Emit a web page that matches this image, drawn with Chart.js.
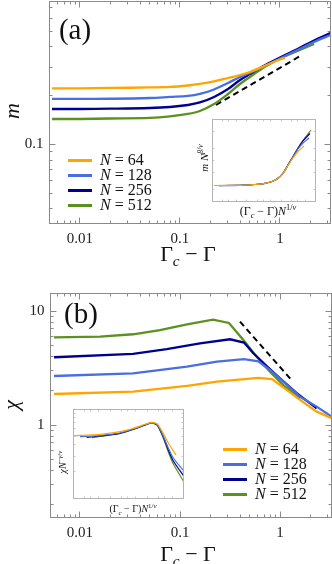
<!DOCTYPE html>
<html>
<head>
<meta charset="utf-8">
<title>Order parameter and susceptibility</title>
<script src="https://cdn.jsdelivr.net/npm/chart.js@4.4.1/dist/chart.umd.min.js"></script>
<style>
  html, body { margin: 0; padding: 0; background: #fff; }
  body { position: relative; width: 332px; height: 564px; overflow: hidden; font-family: "Liberation Serif", "DejaVu Serif", serif; color: #111; }
  canvas { position: absolute; }
  .txt { position: absolute; white-space: nowrap; line-height: 1; transform: translate(-50%, -50%); }
  .rot { transform: translate(-50%, -50%) rotate(-90deg); }
  .leg { position: absolute; display: flex; align-items: center; height: 15px; font-size: 16px; white-space: nowrap; }
  .leg .sw { display: inline-block; width: 24px; height: 3px; margin-right: 8px; }
  sub, sup { font-size: 70%; line-height: 0; }
</style>
</head>
<body>
<canvas id="chartA" width="332" height="250" style="left:0;top:0"></canvas>
<canvas id="chartB" width="332" height="294" style="left:0;top:270px"></canvas>
<canvas id="insetA" width="104" height="83" style="left:212px;top:119px"></canvas>
<canvas id="insetB" width="111" height="90" style="left:73px;top:409px"></canvas>

<div class="txt" style="left:75px;top:29px;font-size:29px">(a)</div>
<div class="txt" style="left:81px;top:313px;font-size:29px">(b)</div>
<div class="txt rot" style="left:12px;top:111px;font-size:22px"><i>m</i></div>
<div class="txt rot" style="left:11px;top:405px;font-size:22px"><i>χ</i></div>
<div class="txt" style="left:188px;top:254px;font-size:22px">Γ<sub><i>c</i></sub> − Γ</div>
<div class="txt" style="left:188px;top:554px;font-size:22px">Γ<sub><i>c</i></sub> − Γ</div>
<div class="txt rot" style="left:204px;top:158px;font-size:11px"><i>m</i> <i>N</i><sup><i>β</i>/<i>ν</i></sup></div>
<div class="txt" style="left:268px;top:211px;font-size:12px">(Γ<sub><i>c</i></sub> − Γ)<i>N</i><sup>1/<i>ν</i></sup></div>
<div class="txt rot" style="left:63px;top:462px;font-size:10px"><i>χN</i><sup>−<i>γ</i>/<i>ν</i></sup></div>
<div class="txt" style="left:133px;top:509px;font-size:10px">(Γ<sub><i>c</i></sub> − Γ)<i>N</i><sup>1/<i>ν</i></sup></div>

<script>
// system sizes and colours
const sizes = [64, 128, 256, 512];
const colors = ['#ffa500', '#4a6ee0', '#00008f', '#5b9120'];

// shared x ticks (Gamma_c - Gamma)
const xMajor = [0.01, 0.1, 1];
const xMinor = [0.006, 0.007, 0.008, 0.009, 0.02, 0.03, 0.04, 0.05, 0.06, 0.07, 0.08, 0.09,
                0.2, 0.3, 0.4, 0.5, 0.6, 0.7, 0.8, 0.9, 2, 3];

// panel (a): magnetisation m
const aYMajor = [0.1];
const aYMinor = [0.04, 0.05, 0.06, 0.07, 0.08, 0.09, 0.2, 0.3, 0.4, 0.5, 0.6, 0.7];
const aX64 = [0.00525, 0.01, 0.02, 0.05, 0.0794, 0.12, 0.158, 0.219, 0.302, 0.398, 0.5, 0.70, 1.0, 1.12];
const aM64 = [0.2223, 0.2223, 0.2233, 0.2249, 0.2265, 0.2313, 0.2363, 0.2449, 0.2573, 0.2685, 0.2802, 0.3049, 0.3347, 0.342];
const aX128 = [0.00525, 0.01, 0.02, 0.05, 0.0794, 0.12, 0.158, 0.219, 0.302, 0.398, 0.5, 0.70, 1.0, 1.5, 2.19, 3.2];
const aM128 = [0.1910, 0.1910, 0.1915, 0.1936, 0.1965, 0.1993, 0.2050, 0.2186, 0.2398, 0.261, 0.2763, 0.3049, 0.3396, 0.3831, 0.4295, 0.474];
const aX256 = [0.00525, 0.01, 0.02, 0.05, 0.0794, 0.12, 0.158, 0.219, 0.302, 0.398, 0.5, 0.70, 1.0, 1.5, 2.19, 3.2];
const aM256 = [0.1656, 0.1656, 0.1663, 0.1680, 0.1704, 0.1753, 0.1817, 0.1965, 0.2201, 0.25, 0.2724, 0.3073, 0.3443, 0.3886, 0.4385, 0.4875];
const aX512 = [0.00525, 0.01, 0.02, 0.05, 0.0794, 0.12, 0.158, 0.219, 0.302, 0.398, 0.5, 0.70, 1.0, 1.5, 2.19];
const aM512 = [0.1437, 0.1437, 0.1447, 0.1458, 0.1489, 0.1543, 0.1610, 0.1778, 0.2050, 0.2363, 0.261, 0.3007, 0.3396, 0.3778, 0.4172];
const aFitX = [0.229, 1.66];
const aFitY = [0.1753, 0.3569];

// panel (b): susceptibility chi
const bYMajor = [1, 10];
const bYMinor = [0.2, 0.3, 0.4, 0.5, 0.6, 0.7, 0.8, 0.9, 2, 3, 4, 5, 6, 7, 8, 9];
const bX64 = [0.0055, 0.0339, 0.1175, 0.2344, 0.607, 0.832, 1.166, 1.585, 2.328, 3.289];
const bChi64 = [1.87, 1.96, 2.20, 2.40, 2.59, 2.53, 2.03, 1.66, 1.31, 1.15];
const bX128 = [0.0055, 0.0339, 0.1175, 0.2344, 0.4365, 0.607, 0.794, 1.079, 1.585, 2.328, 3.289];
const bChi128 = [2.69, 2.84, 3.25, 3.59, 3.79, 3.62, 3.04, 2.40, 1.77, 1.45, 1.18];
const bX256 = [0.0055, 0.0339, 0.0736, 0.1585, 0.316, 0.4365, 0.541, 0.736, 1.0, 1.468, 2.328];
const bChi256 = [3.93, 4.2, 4.64, 5.21, 5.65, 5.29, 4.26, 3.29, 2.57, 1.90, 1.40];
const bX512 = [0.0055, 0.0159, 0.0339, 0.0631, 0.1175, 0.2138, 0.309, 0.43, 0.585, 0.794, 1.079, 1.585];
const bChi512 = [5.88, 5.95, 6.25, 6.81, 7.64, 8.39, 7.85, 5.57, 3.97, 2.94, 2.24, 1.71];
const bFitX = [0.398, 1.279];
const bFitY = [8.06, 2.52];

// inset (a): scaling collapse of m
const iaX64 = [0.0114, 0.0643, 0.174, 0.338, 0.538, 0.750, 1.117, 1.556, 2.169, 3.025, 4.51];
const iaY64 = [0.250, 0.2525, 0.264, 0.282, 0.312, 0.358, 0.492, 0.758, 1.149, 1.648, 2.236];
const iaX128 = [0.0159, 0.0643, 0.174, 0.338, 0.538, 0.750, 1.117, 1.556, 2.169, 3.025, 4.217, 6.28];
const iaY128 = [0.2456, 0.2525, 0.264, 0.282, 0.312, 0.358, 0.492, 0.779, 1.235, 1.893, 2.641, 3.485];
const iaX256 = [0.0222, 0.0643, 0.174, 0.338, 0.538, 0.750, 1.117, 1.556, 2.169, 3.025, 4.217, 6.71];
const iaY256 = [0.2497, 0.2525, 0.264, 0.282, 0.312, 0.358, 0.492, 0.779, 1.235, 1.968, 2.951, 4.473];
const iaX512 = [0.0378, 0.0643, 0.174, 0.338, 0.538, 0.750, 1.117, 1.556, 2.169, 3.025, 4.217, 7.18];
const iaY512 = [0.2497, 0.2525, 0.264, 0.282, 0.312, 0.358, 0.492, 0.779, 1.235, 2.001, 3.033, 5.432];

// inset (b): scaling collapse of chi
const ibX64 = [0.01084, 0.0537, 0.1862, 0.4266, 0.883, 1.34, 1.897, 2.758, 3.767, 6.08];
const ibY64 = [0.505, 0.5235, 0.5596, 0.6105, 0.6761, 0.7113, 0.6814, 0.537, 0.419, 0.3083];
const ibX128 = [0.01545, 0.0537, 0.1862, 0.4266, 0.883, 1.34, 1.897, 2.758, 3.767, 5.14, 9.57];
const ibY128 = [0.4923, 0.5077, 0.5412, 0.5995, 0.6674, 0.7079, 0.6727, 0.5012, 0.3687, 0.2855, 0.2074];
const ibX256 = [0.02344, 0.0537, 0.1862, 0.4266, 0.883, 1.34, 1.897, 2.758, 3.767, 5.14, 9.57];
const ibY256 = [0.4823, 0.5012, 0.537, 0.595, 0.664, 0.7042, 0.664, 0.4886, 0.3503, 0.2644, 0.1824];
const ibX512 = [0.03266, 0.0537, 0.1862, 0.4266, 0.883, 1.34, 1.897, 2.758, 3.767, 5.14, 9.8];
const ibY512 = [0.4799, 0.4949, 0.5342, 0.592, 0.6607, 0.6991, 0.6556, 0.4763, 0.3329, 0.2448, 0.1564];
const insetXTicks = [0.02, 0.03, 0.05, 0.1, 0.2, 0.3, 0.5, 1, 2, 3, 5];

const pts = (xs, ys) => xs.map((x, i) => ({ x: x, y: ys[i] }));

// frame with inward ticks on all four sides, Mathematica style
function frame(cfg) {
    return {
        id: 'frame',
        afterDraw(chart) {
            const { ctx, chartArea: a } = chart;
            const sx = chart.scales.x, sy = chart.scales.y;
            const off = cfg.offset || 0;
            const L = a.left + off, R = a.right - off, T = a.top + off, B = a.bottom - off;
            ctx.save();
            ctx.strokeStyle = cfg.tickColor || cfg.color;
            ctx.lineWidth = 1;
            ctx.beginPath();
            const tickX = (vals, len) => vals.forEach(v => {
                const px = Math.round(sx.getPixelForValue(v) - 0.5) + 0.5;
                if (px <= L || px >= R) return;
                ctx.moveTo(px, B); ctx.lineTo(px, B - len);
                ctx.moveTo(px, T); ctx.lineTo(px, T + len);
            });
            const tickY = (vals, len) => vals.forEach(v => {
                const py = Math.round(sy.getPixelForValue(v) - 0.5) + 0.5;
                if (py <= T || py >= B) return;
                ctx.moveTo(L, py); ctx.lineTo(L + len, py);
                ctx.moveTo(R, py); ctx.lineTo(R - len, py);
            });
            tickX(cfg.xMajor || [], cfg.major);
            tickX(cfg.xMinor || [], cfg.minor);
            tickY(cfg.yMajor || [], cfg.major);
            tickY(cfg.yMinor || [], cfg.minor);
            ctx.stroke();
            ctx.strokeStyle = cfg.color;
            ctx.strokeRect(L, T, R - L, B - T);
            ctx.restore();
        }
    };
}

function lineSets(list, width, tension) {
    return list.map((d, i) => ({
        data: pts(d[0], d[1]),
        borderColor: colors[i],
        borderWidth: width,
        pointRadius: 0,
        tension: tension,
        fill: false
    }));
}

function fitSet(xs, ys) {
    return { data: pts(xs, ys), borderColor: '#000', borderWidth: 2, borderDash: [6, 4],
             pointRadius: 0, tension: 0, fill: false };
}

const tickFont = { family: 'Liberation Serif', size: 15 };

function mainChart(id, datasets, o) {
    return new Chart(document.getElementById(id), {
        type: 'line',
        data: { datasets: datasets },
        options: {
            responsive: false, animation: false, devicePixelRatio: 1,
            layout: { padding: o.padding },
            plugins: { legend: { display: false }, tooltip: { enabled: false } },
            scales: {
                x: {
                    type: 'logarithmic', min: o.xMin, max: o.xMax, bounds: 'data',
                    afterFit: s => { s.height = o.xAxisH; s.paddingLeft = 0; s.paddingRight = 0; },
                    afterBuildTicks: s => { s.ticks = xMajor.map(v => ({ value: v })); },
                    grid: { display: false, drawTicks: false }, border: { display: false },
                    ticks: { padding: 7, color: '#222', font: tickFont, autoSkip: false, maxRotation: 0,
                             callback: v => String(v) }
                },
                y: {
                    type: 'logarithmic', min: o.yMin, max: o.yMax, bounds: 'data',
                    afterFit: s => { s.width = o.yAxisW; s.paddingTop = 0; s.paddingBottom = 0; },
                    afterBuildTicks: s => { s.ticks = o.yMajor.map(v => ({ value: v })); },
                    grid: { display: false, drawTicks: false }, border: { display: false },
                    ticks: { padding: 6, color: '#222', font: tickFont, autoSkip: false,
                             callback: v => String(v) }
                }
            }
        },
        plugins: [frame({ color: '#8a8a8a', major: 6, minor: 3, xMajor: xMajor, xMinor: xMinor,
                          yMajor: o.yMajor, yMinor: o.yMinor })]
    });
}

function insetChart(id, datasets, o) {
    return new Chart(document.getElementById(id), {
        type: 'line',
        data: { datasets: datasets },
        options: {
            responsive: false, animation: false, devicePixelRatio: 1,
            layout: { padding: 0 },
            plugins: { legend: { display: false }, tooltip: { enabled: false } },
            scales: {
                x: { type: 'logarithmic', min: o.xMin, max: o.xMax, display: false },
                y: { type: 'logarithmic', min: o.yMin, max: o.yMax, display: false }
            }
        },
        plugins: [frame({ color: '#b4b4b4', tickColor: '#c8c8c8', offset: 0.5, major: 3, minor: 2,
                          xMajor: [], xMinor: insetXTicks, yMajor: [], yMinor: o.yTicks })]
    });
}

mainChart('chartA',
    lineSets([[aX64, aM64], [aX128, aM128], [aX256, aM256], [aX512, aM512]], 2.3, 0.35)
        .concat([fitSet(aFitX, aFitY)]),
    { padding: { left: 0, right: 1.5, top: 1.5, bottom: 0 }, xAxisH: 26.5, yAxisW: 49.5,
      xMin: 0.004955, xMax: 3.199, yMin: 0.03253, yMax: 0.7631, yMajor: aYMajor, yMinor: aYMinor });

mainChart('chartB',
    lineSets([[bX64, bChi64], [bX128, bChi128], [bX256, bChi256], [bX512, bChi512]], 2.3, 0)
        .concat([fitSet(bFitX, bFitY)]),
    { padding: { left: 0, right: 0.5, top: 23.5, bottom: 0 }, xAxisH: 46.5, yAxisW: 50.5,
      xMin: 0.00507, xMax: 3.273, yMin: 0.1544, yMax: 14.24, yMajor: bYMajor, yMinor: bYMinor });

insetChart('insetA',
    lineSets([[iaX64, iaY64], [iaX128, iaY128], [iaX256, iaY256], [iaX512, iaY512]], 1.2, 0.35),
    { xMin: 0.01, xMax: 10, yMin: 0.1, yMax: 10, yTicks: [0.2, 0.5, 1, 2, 5] });

insetChart('insetB',
    lineSets([[ibX64, ibY64], [ibX128, ibY128], [ibX256, ibY256], [ibX512, ibY512]], 1.2, 0.2),
    { xMin: 0.01, xMax: 10, yMin: 0.1, yMax: 1, yTicks: [0.2, 0.3, 0.4, 0.5, 0.6, 0.7, 0.8, 0.9] });

// legends
function legend(left, top) {
    sizes.forEach((n, i) => {
        const row = document.createElement('div');
        row.className = 'leg';
        row.style.left = left + 'px';
        row.style.top = (top + i * 15) + 'px';
        row.innerHTML = '<span class="sw" style="background:' + colors[i] + '"></span><i>N</i>&nbsp;=&nbsp;' + n;
        document.body.appendChild(row);
    });
}
legend(68, 152.5);
legend(223, 441.5);
</script>
</body>
</html>
